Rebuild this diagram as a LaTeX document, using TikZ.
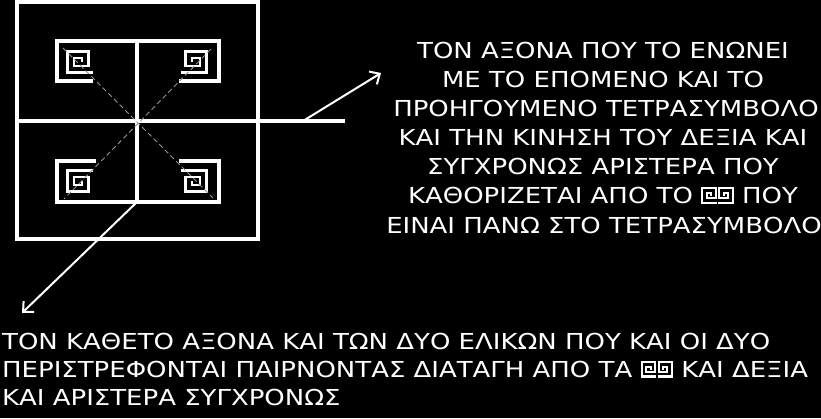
\documentclass[tikz,border=0pt]{standalone}
\usepackage{fontspec}
\usetikzlibrary{arrows.meta}
\newfontfamily\grfont[FakeStretch=1.18]{DejaVu Sans}
\newcommand\meanders{\tikz[baseline=0pt,x=1pt,y=1pt,line width=2.1pt,white,line cap=rect]{%
\draw (14.5,1)--(1,1)--(1,15.5)--(14.5,15.5)--(14.5,5.8)--(5.8,5.8)--(5.8,10.7)--(10,10.7)--(10,8.5);
\draw (18,1)--(31.5,1)--(31.5,15.5)--(18,15.5)--(18,5.8)--(26.7,5.8)--(26.7,10.7)--(22.5,10.7)--(22.5,8.5);}}
\begin{document}
\begin{tikzpicture}[x=1pt,y=-1pt,
  frame/.style={white, line width=3.2pt},
  spir/.style={white, line width=2.8pt},
  diag/.style={gray!85, line width=0.9pt, dash pattern=on 5pt off 3pt},
  arr/.style={white, line width=2pt, -{Straight Barb[length=8pt,width=15pt]}},
  txt/.style={white, font=\grfont\fontsize{22}{29}\selectfont, inner sep=0pt},
  meander/.pic={\draw[spir] (15,10.5)--(-10.5,10.5)--(-10.5,-10.5)--(10.5,-10.5)--(10.5,4)--(-4,4)--(-4,-4)--(4,-4)--(4,0);}
]
\fill[black] (0,0) rectangle (821,418);
\useasboundingbox (0,0) rectangle (821,418);
% frame
\draw[frame] (17,2) rectangle (258,239);
\draw[frame] (17,121) -- (345,121);
\draw[frame] (137,41) -- (137,202);
\draw[frame] (137,41) -- (57,41) -- (57,81) -- (93,81);
\draw[frame] (137,41) -- (219,41) -- (219,81) -- (179,81);
\draw[frame] (96,161) -- (57,161) -- (57,202) -- (137,202);
\draw[frame] (179,161) -- (219,161) -- (219,202) -- (137,202);
% spirals
\pic at (78,62) {meander};
\pic[xscale=-1] at (196,62) {meander};
\pic[yscale=-1] at (78,181) {meander};
\pic[xscale=-1,yscale=-1] at (196,181) {meander};
% diagonals
\draw[diag] (63,48) -- (213,198);
\draw[diag] (211,49) -- (64,199);
% arrows
\coordinate (a1s) at (303,121);
\coordinate (a1e) at (381,73);
\coordinate (a2s) at (137,202);
\coordinate (a2e) at (22,313);
\draw[arr] (a1s) -- (a1e);
\draw[arr] (a2s) -- (a2e);
% right text
\node[txt,anchor=base] (r1) at (603,58) {ΤΟΝ ΑΞΟΝΑ ΠΟΥ ΤΟ ΕΝΩΝΕΙ};
\node[txt,anchor=base] (r2) at (603,87.2) {ΜΕ ΤΟ ΕΠΟΜΕΝΟ ΚΑΙ ΤΟ};
\node[txt,anchor=base] (r3) at (606,116.3) {ΠΡΟΗΓΟΥΜΕΝΟ ΤΕΤΡΑΣΥΜΒΟΛΟ};
\node[txt,anchor=base] (r4) at (603,145.5) {ΚΑΙ ΤΗΝ ΚΙΝΗΣΗ ΤΟΥ ΔΕΞΙΑ ΚΑΙ};
\node[txt,anchor=base] (r5) at (603,174.7) {ΣΥΓΧΡΟΝΩΣ ΑΡΙΣΤΕΡΑ ΠΟΥ};
\node[txt,anchor=base] (r6) at (603,203.8) {ΚΑΘΟΡΙΖΕΤΑΙ ΑΠΟ ΤΟ \meanders{} ΠΟΥ};
\node[txt,anchor=base] (r7) at (604,233) {ΕΙΝΑΙ ΠΑΝΩ ΣΤΟ ΤΕΤΡΑΣΥΜΒΟΛΟ};
% bottom text
\node[txt,anchor=base west] (b1) at (2,349) {ΤΟΝ ΚΑΘΕΤΟ ΑΞΟΝΑ ΚΑΙ ΤΩΝ ΔΥΟ ΕΛΙΚΩΝ ΠΟΥ ΚΑΙ ΟΙ ΔΥΟ};
\node[txt,anchor=base west] (b2) at (2,377.5) {ΠΕΡΙΣΤΡΕΦΟΝΤΑΙ ΠΑΙΡΝΟΝΤΑΣ ΔΙΑΤΑΓΗ ΑΠΟ ΤΑ \meanders{} ΚΑΙ ΔΕΞΙΑ};
\node[txt,anchor=base west] (b3) at (2,405.5) {ΚΑΙ ΑΡΙΣΤΕΡΑ ΣΥΓΧΡΟΝΩΣ};
\end{tikzpicture}
\end{document}
